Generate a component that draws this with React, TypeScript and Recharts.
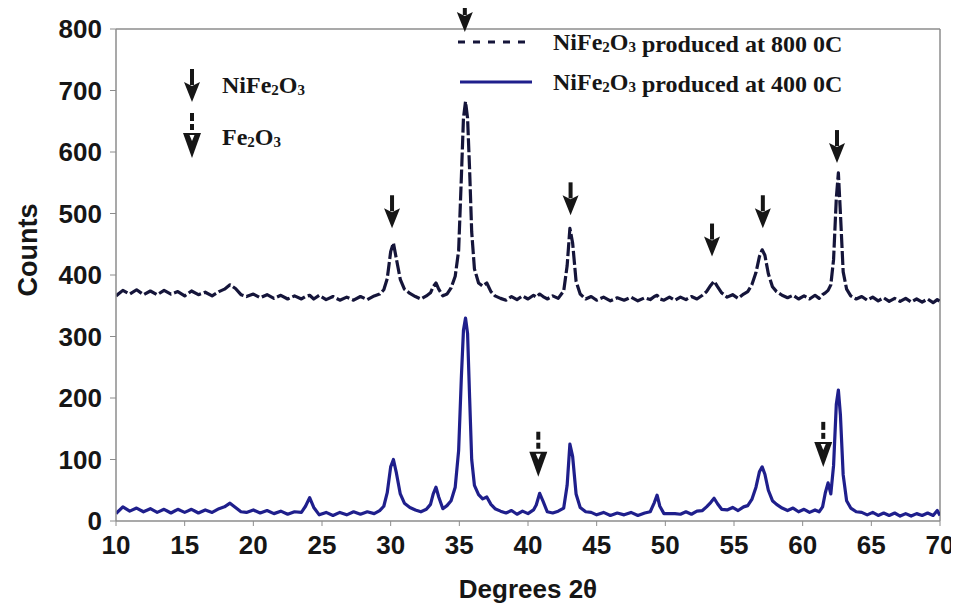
import { LineChart, Line, XAxis, YAxis, ReferenceLine, ReferenceDot } from 'recharts'

// diffraction angle (2θ) sampling, shared by both patterns
const angles = [
  10, 10.5, 11, 11.5, 12, 12.5, 13, 13.5, 14, 14.5, 15, 15.5, 16, 16.5, 17, 17.5, 17.9, 18.3, 18.7,
  19.1, 19.5, 20, 20.5, 21, 21.5, 22, 22.5, 23, 23.5, 23.8, 24.1, 24.4,
  24.8, 25.3, 25.8, 26.3, 26.8, 27.3, 27.8, 28.3, 28.8, 29.2, 29.5, 29.75,
  30.0, 30.2, 30.4, 30.7, 31.0, 31.4, 31.8, 32.2, 32.6, 32.9, 33.1, 33.3, 33.5, 33.8,
  34.1, 34.4, 34.7, 34.95, 35.15, 35.3, 35.45, 35.6, 35.75, 35.9, 36.1, 36.4, 36.7, 37.0, 37.3, 37.6, 38.0,
  38.4, 38.8, 39.2, 39.6, 40.0, 40.4, 40.6, 40.85, 41.1, 41.4, 41.8, 42.2, 42.6, 42.85, 43.05, 43.25, 43.5, 43.8, 44.2,
  44.6, 45.0, 45.5, 46.0, 46.5, 47.0, 47.5, 48.0, 48.5, 48.9, 49.2, 49.4, 49.6, 49.9, 50.3,
  50.7, 51.1, 51.5, 51.9, 52.3, 52.7, 53.0, 53.3, 53.55, 53.8, 54.1, 54.5, 54.9, 55.3, 55.7,
  56.0, 56.3, 56.6, 56.85, 57.05, 57.25, 57.5, 57.8, 58.1, 58.5, 58.9, 59.3, 59.7,
  60.1, 60.5, 60.9, 61.2, 61.45, 61.65, 61.85, 62.05, 62.25, 62.45, 62.6, 62.75, 62.95, 63.2, 63.5, 63.9,
  64.3, 64.7, 65.1, 65.5, 65.9, 66.3, 66.7, 67.1, 67.5, 67.9, 68.3, 68.7, 69.1, 69.5, 69.8, 70.0,
]

// NiFe2O3 produced at 800 0C
const counts800 = [
  366, 375, 369, 376, 368, 374, 368, 375, 369, 373, 366, 374, 368, 372, 366, 373, 377, 384, 378,
  368, 365, 369, 363, 368, 362, 367, 361, 366, 361, 365, 367, 361,
  367, 360, 365, 359, 364, 359, 365, 360, 366, 369, 376, 394,
  438, 452, 428, 393, 377, 370, 365, 361, 366, 371, 381, 387, 377, 366,
  369, 379, 398, 440, 560, 655, 682, 655, 570, 470, 410, 387, 382, 387, 373, 366, 362,
  359, 365, 360, 366, 361, 367, 364, 369, 365, 361, 366, 362, 374, 415, 476, 452, 390, 369, 361,
  365, 359, 364, 358, 363, 359, 364, 358, 363, 360, 365, 367, 361, 359, 364,
  359, 364, 360, 365, 361, 367, 373, 383, 390, 381, 371, 364, 368, 362, 369,
  373, 384, 404, 430, 441, 432, 402, 381, 373, 367, 363, 367, 361,
  366, 361, 367, 362, 368, 371, 375, 384, 425, 525, 566, 500, 405, 377, 366, 361,
  365, 359, 364, 358, 363, 357, 362, 357, 362, 356, 361, 356, 361, 355, 360, 357,
]

// NiFe2O3 produced at 400 0C
const counts400 = [
  12, 23, 16, 21, 15, 20, 14, 19, 13, 19, 14, 19, 13, 18, 14, 20, 23, 29, 22,
  15, 14, 18, 13, 17, 12, 16, 11, 15, 14, 24, 38, 22,
  10, 14, 9, 14, 10, 15, 11, 15, 12, 17, 24, 46,
  88, 100, 80, 44, 29, 22, 18, 15, 19, 27, 44, 55, 39, 20,
  25, 33, 55, 115, 235, 310, 330, 305, 200, 100, 58, 43, 36, 39, 27, 20, 16,
  13, 17, 11, 16, 12, 18, 26, 45, 32, 15, 13, 16, 21, 58, 125, 105, 44, 22, 15,
  14, 10, 14, 9, 13, 10, 14, 9, 13, 15, 30, 42, 24, 12, 12,
  12, 11, 15, 11, 16, 17, 23, 30, 37, 28, 19, 18, 22, 17, 23,
  25, 35, 55, 80, 88, 76, 50, 33, 27, 21, 17, 21, 15,
  19, 14, 18, 15, 23, 46, 62, 44, 90, 190, 213, 172, 75, 33, 21, 15,
  14, 10, 14, 9, 13, 9, 13, 8, 12, 8, 12, 9, 13, 9, 17, 9,
]

const xTicks = [10, 15, 20, 25, 30, 35, 40, 45, 50, 55, 60, 65, 70]
const yTicks = [0, 100, 200, 300, 400, 500, 600, 700, 800]

// peak markers: [angle, counts at arrow tip]
const niArrows = [
  [30.1, 476],
  [35.4, 795],
  [43.1, 497],
  [53.4, 430],
  [57.1, 476],
  [62.5, 582],
]
const feArrows = [
  [40.75, 72],
  [61.5, 88],
]

const data = angles.map((a, i) => ({ angle: a, c800: counts800[i], c400: counts400[i] }))

const W = 951
const H = 598
const INK = '#161616'
const GREY = '#8c8c8c'
const NAVY = '#1f1f8c'
const DARK = '#15153a'
const sans = '"Liberation Sans", Arial, sans-serif'
const serif = '"Liberation Serif", "Times New Roman", serif'

function NiArrow({ cx, cy }: any) {
  return (
    <g>
      <rect x={cx - 2} y={cy - 33} width={4} height={16} fill={INK} />
      <path d={`M${cx - 8},${cy - 20} L${cx},${cy - 16} L${cx + 8},${cy - 20} L${cx},${cy} Z`} fill={INK} />
    </g>
  )
}

function FeArrow({ cx, cy }: any) {
  return (
    <g>
      <rect x={cx - 2} y={cy - 45} width={4} height={8} fill={INK} />
      <rect x={cx - 2} y={cy - 34} width={4} height={6} fill={INK} />
      <path d={`M${cx - 9},${cy - 25} L${cx + 9},${cy - 25} L${cx},${cy} Z`} fill={INK} />
      <path d={`M${cx - 2.5},${cy - 23} L${cx + 2.5},${cy - 23} L${cx},${cy - 17} Z`} fill="#fff" />
    </g>
  )
}

function Formula({ pre }: { pre: string }) {
  // NiFe2O3 / Fe2O3 with small subscripts
  return (
    <>
      {pre}Fe<tspan fontSize={15} dy={2}>2</tspan>
      <tspan dy={-2}>O</tspan>
      <tspan fontSize={15} dy={2}>3</tspan>
      <tspan dy={-2}></tspan>
    </>
  )
}

export default function App() {
  return (
    <div style={{ position: 'relative', width: W, height: H }}>
      <LineChart width={W} height={H} data={data} margin={{ top: 21, right: 19, bottom: 25, left: 0 }}>
        <XAxis
          dataKey="angle"
          type="number"
          domain={[10, 70]}
          ticks={xTicks}
          allowDataOverflow
          height={60}
          tickSize={5}
          tickMargin={10}
          axisLine={{ stroke: GREY, strokeWidth: 1.5 }}
          tickLine={{ stroke: GREY }}
          tick={{ fill: INK, fontSize: 26, fontWeight: 'bold', fontFamily: sans }}
        />
        <YAxis
          type="number"
          domain={[0, 800]}
          ticks={yTicks}
          width={108}
          tickSize={6}
          tickMargin={8}
          axisLine={{ stroke: GREY, strokeWidth: 1.5 }}
          tickLine={{ stroke: GREY }}
          tick={{ fill: INK, fontSize: 26, fontWeight: 'bold', fontFamily: sans }}
        />
        <ReferenceLine y={800} stroke={GREY} strokeWidth={1.5} />
        <ReferenceLine x={70} stroke={GREY} strokeWidth={1.5} />
        <Line
          type="linear"
          dataKey="c800"
          stroke={DARK}
          strokeWidth={3.2}
          strokeDasharray="14 3"
          strokeLinejoin="round"
          dot={false}
          isAnimationActive={false}
        />
        <Line
          type="linear"
          dataKey="c400"
          stroke={NAVY}
          strokeWidth={3.2}
          strokeLinejoin="round"
          dot={false}
          isAnimationActive={false}
        />
        {niArrows.map(([x, y]) => (
          <ReferenceDot key={'n' + x} x={x} y={y} ifOverflow="visible" shape={(p: any) => <NiArrow {...p} />} />
        ))}
        {feArrows.map(([x, y]) => (
          <ReferenceDot key={'f' + x} x={x} y={y} ifOverflow="visible" shape={(p: any) => <FeArrow {...p} />} />
        ))}
      </LineChart>
      <svg width={W} height={H} style={{ position: 'absolute', left: 0, top: 0, pointerEvents: 'none' }}>
        <text
          x={20}
          y={242}
          transform="rotate(-90 20 242)"
          textAnchor="middle"
          dominantBaseline="central"
          fill={INK}
          fontSize={27}
          fontWeight="bold"
          fontFamily={sans}
        >
          Counts
        </text>
        <text x={520} y={590} textAnchor="middle" fill={INK} fontSize={26} fontWeight="bold" fontFamily={sans}>
          Degrees 2θ
        </text>

        <g fill={INK} fontFamily={serif} fontWeight="bold" fontSize={24}>
          <NiArrow cx={184} cy={94} />
          <text x={214} y={85}>
            <Formula pre="Ni" />
          </text>
          <FeArrow cx={184} cy={150} />
          <text x={214} y={137}>
            <Formula pre="" />
          </text>

          <line x1={450} y1={34} x2={524} y2={34} stroke={DARK} strokeWidth={2.8} strokeDasharray="7 8" />
          <text x={545} y={42}>
            <Formula pre="Ni" /> produced at 800 0C
          </text>
          <line x1={452} y1={74} x2={524} y2={74} stroke={NAVY} strokeWidth={2.8} />
          <text x={545} y={82}>
            <Formula pre="Ni" /> produced at 400 0C
          </text>
        </g>
      </svg>
    </div>
  )
}
